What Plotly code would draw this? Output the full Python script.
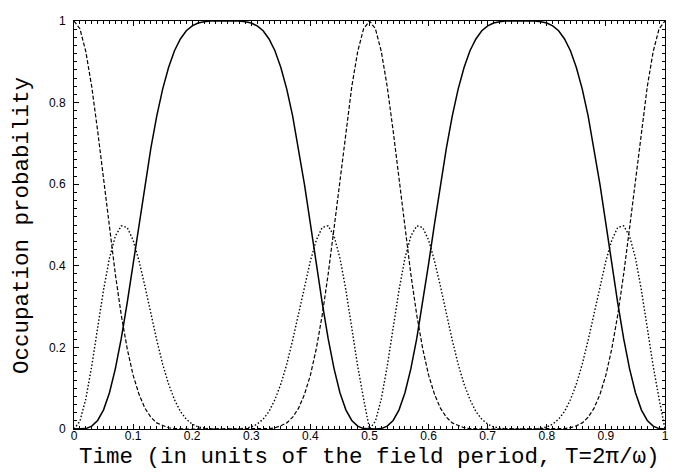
import plotly.graph_objects as go

# Occupation probabilities of the three levels (step 0.01 in time)
time = [round(i * 0.01, 2) for i in range(101)]

level1 = [1.000, 0.981, 0.925, 0.839, 0.731, 0.612, 0.492, 0.379, 0.279, 0.197,
          0.132, 0.085, 0.051, 0.029, 0.015, 0.008, 0.003, 0.001, 0.000, 0.000,
          0.000, 0.000, 0.000, 0.000, 0.000, 0.000, 0.000, 0.000, 0.000, 0.000,
          0.000, 0.000, 0.000, 0.001, 0.003, 0.008, 0.015, 0.029, 0.051, 0.085,
          0.132, 0.197, 0.279, 0.379, 0.492, 0.612, 0.731, 0.839, 0.925, 0.981,
          1.000, 0.981, 0.925, 0.839, 0.731, 0.612, 0.492, 0.379, 0.279, 0.197,
          0.132, 0.085, 0.051, 0.029, 0.015, 0.008, 0.003, 0.001, 0.000, 0.000,
          0.000, 0.000, 0.000, 0.000, 0.000, 0.000, 0.000, 0.000, 0.000, 0.000,
          0.000, 0.000, 0.000, 0.001, 0.003, 0.008, 0.015, 0.029, 0.051, 0.085,
          0.132, 0.197, 0.279, 0.379, 0.492, 0.612, 0.731, 0.839, 0.925, 0.981,
          1.000]

level2 = [0.000, 0.019, 0.074, 0.154, 0.248, 0.341, 0.419, 0.473, 0.498, 0.494,
          0.463, 0.412, 0.350, 0.283, 0.218, 0.159, 0.110, 0.072, 0.043, 0.024,
          0.012, 0.005, 0.002, 0.000, 0.000, 0.000, 0.000, 0.000, 0.000, 0.002,
          0.005, 0.012, 0.024, 0.043, 0.072, 0.110, 0.159, 0.218, 0.283, 0.350,
          0.412, 0.463, 0.494, 0.498, 0.473, 0.419, 0.341, 0.248, 0.154, 0.074,
          0.000, 0.019, 0.074, 0.154, 0.248, 0.341, 0.419, 0.473, 0.498, 0.494,
          0.463, 0.412, 0.350, 0.283, 0.218, 0.159, 0.110, 0.072, 0.043, 0.024,
          0.012, 0.005, 0.002, 0.000, 0.000, 0.000, 0.000, 0.000, 0.000, 0.002,
          0.005, 0.012, 0.024, 0.043, 0.072, 0.110, 0.159, 0.218, 0.283, 0.350,
          0.412, 0.463, 0.494, 0.498, 0.473, 0.419, 0.341, 0.248, 0.154, 0.074,
          0.000]

level3 = [0.000, 0.000, 0.001, 0.007, 0.021, 0.047, 0.089, 0.148, 0.222, 0.309,
          0.405, 0.503, 0.599, 0.688, 0.767, 0.833, 0.886, 0.927, 0.956, 0.976,
          0.988, 0.995, 0.998, 1.000, 1.000, 1.000, 1.000, 1.000, 1.000, 0.998,
          0.995, 0.988, 0.976, 0.956, 0.927, 0.886, 0.833, 0.767, 0.688, 0.599,
          0.503, 0.405, 0.309, 0.222, 0.148, 0.089, 0.047, 0.021, 0.007, 0.001,
          0.000, 0.000, 0.001, 0.007, 0.021, 0.047, 0.089, 0.148, 0.222, 0.309,
          0.405, 0.503, 0.599, 0.688, 0.767, 0.833, 0.886, 0.927, 0.956, 0.976,
          0.988, 0.995, 0.998, 1.000, 1.000, 1.000, 1.000, 1.000, 1.000, 0.998,
          0.995, 0.988, 0.976, 0.956, 0.927, 0.886, 0.833, 0.767, 0.688, 0.599,
          0.503, 0.405, 0.309, 0.222, 0.148, 0.089, 0.047, 0.021, 0.007, 0.001,
          0.000]

x_ticks = [0, 0.1, 0.2, 0.3, 0.4, 0.5, 0.6, 0.7, 0.8, 0.9, 1]
y_ticks = [0, 0.2, 0.4, 0.6, 0.8, 1]
x_title = "Time (in units of the field period, T=2π/ω)"
y_title = "Occupation probability"

fig = go.Figure()
fig.add_trace(go.Scatter(x=time, y=level1, mode="lines", line=dict(color="black", width=1.2, dash="4px,2px")))
fig.add_trace(go.Scatter(x=time, y=level2, mode="lines", line=dict(color="black", width=1.4, dash="1.5px,2px")))
fig.add_trace(go.Scatter(x=time, y=level3, mode="lines", line=dict(color="black", width=1.5)))

axis_common = dict(
    showgrid=False, zeroline=False, showline=True, linecolor="black", linewidth=1,
    mirror="allticks", ticks="inside", ticklen=5, tickwidth=1, tickcolor="black",
    tickfont=dict(family="Liberation Sans", size=12, color="black"),
    ticklabeloverflow="allow",
)

fig.update_xaxes(
    range=[0, 1], tickvals=x_ticks, ticktext=[str(v) for v in x_ticks],
    minor=dict(ticks="inside", ticklen=3, dtick=0.01, tick0=0, tickcolor="black", tickwidth=1),
    ticklabelstandoff=-4,
    **axis_common,
)
fig.update_yaxes(
    range=[0, 1], tickvals=y_ticks, ticktext=[str(v) for v in y_ticks],
    minor=dict(ticks="inside", ticklen=3, dtick=0.02, tick0=0, tickcolor="black", tickwidth=1),
    ticklabelstandoff=5,
    **axis_common,
)

# axis titles placed as annotations so they sit where the original has them
title_font = dict(family="Liberation Mono", size=22.5, color="black")
fig.add_annotation(text=x_title, xref="paper", yref="paper", x=0.5, y=-0.069,
                   xanchor="center", yanchor="middle", showarrow=False, borderpad=0, font=title_font)
fig.add_annotation(text=y_title, xref="paper", yref="paper", x=-0.088, y=0.5,
                   xanchor="center", yanchor="middle", textangle=-90, showarrow=False, borderpad=0,
                   font=title_font)

fig.update_layout(
    width=690, height=472,
    margin=dict(l=66, r=33, t=6, b=51),
    paper_bgcolor="white", plot_bgcolor="white",
    showlegend=False,
)

fig.write_html("out.html")
